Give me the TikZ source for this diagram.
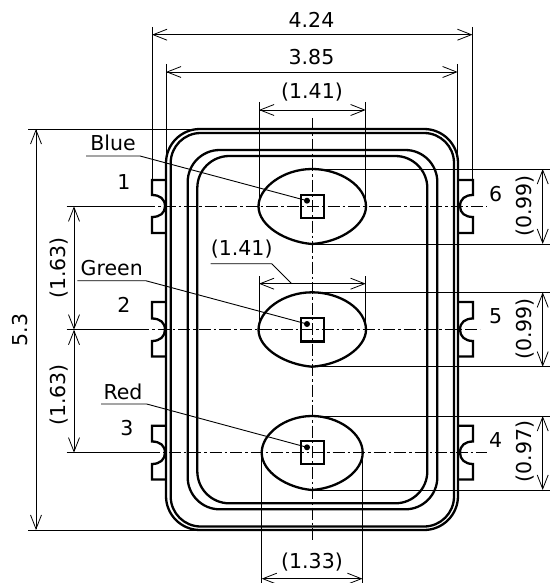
\documentclass[tikz,border=0pt]{standalone}
\usepackage{fontspec}
\setmainfont{DejaVu Sans}
\usetikzlibrary{arrows.meta}
\tikzset{
  lbl/.style={font=\fontsize{20.5}{24}\selectfont, inner sep=0pt},
  dimline/.style={line width=0.9pt, {Straight Barb[length=14pt,width=11pt,line width=0.8pt]}-{Straight Barb[length=14pt,width=11pt,line width=0.8pt]}},
  extline/.style={line width=0.9pt},
  outline/.style={line width=2.3pt},
  centerline/.style={line width=0.9pt, dash pattern=on 12pt off 3pt on 2.5pt off 3pt},
  leader/.style={line width=0.9pt}
}
\begin{document}
\begin{tikzpicture}[x=1pt,y=-1pt]
      \useasboundingbox (0,0) rectangle (552,583);
      \draw
        (311.5,20) node[lbl] (w424){4.24}
        (311.5,57) node[lbl] (w385){3.85}
        (312,92) node[lbl] (w141a){(1.41)}
        (241.7,249) node[lbl] (w141b){(1.41)}
        (312,562.5) node[lbl] (w133){(1.33)}
        (20,330) node[lbl,rotate=90] (h53){5.3}
        (59.5,268) node[lbl,rotate=90] (h163a){(1.63)}
        (59.5,395) node[lbl,rotate=90] (h163b){(1.63)}
        (525,206) node[lbl,rotate=90] (h099a){(0.99)}
        (525,329) node[lbl,rotate=90] (h099b){(0.99)}
        (525,451.7) node[lbl,rotate=90] (h097){(0.97)}
        (113,143) node[lbl] (blue){Blue}
        (111.7,268) node[lbl] (green){Green}
        (123,392) node[lbl] (red){Red}
        (124,182) node[lbl] (pin1){1}
        (124,305) node[lbl] (pin2){2}
        (127,428) node[lbl] (pin3){3}
        (495.7,440) node[lbl] (pin4){4}
        (495.7,316) node[lbl] (pin5){5}
        (495.7,194) node[lbl] (pin6){6};
      % package body
      \begin{scope}[outline]
        \draw[rounded corners=34] (166,129) rectangle (458,530);
        \draw[rounded corners=30] (170.7,133) rectangle (454,526.5);
        \draw[rounded corners=32] (187.7,150) rectangle (437.3,509.3);
        \draw[rounded corners=32] (197.3,156) rectangle (427.3,503.3);
      \end{scope}
      % pads
      \begin{scope}[outline]
        \draw (166,180) -- (152,180) -- (152,195) .. controls (160,195) and (165,199) .. (165,206.3) .. controls (165,213) and (160,217) .. (152,217) -- (152,233) -- (166,233);
        \draw (166,302) -- (152,302) -- (152,318.5) .. controls (160,318.5) and (165,322.5) .. (165,329.7) .. controls (165,336.5) and (160,341) .. (152,341) -- (152,356.5) -- (166,356.5);
        \draw (166,425.7) -- (152,425.7) -- (152,441.5) .. controls (160,441.5) and (165,445.5) .. (165,452.7) .. controls (165,459.5) and (160,464) .. (152,464) -- (152,479.5) -- (166,479.5);
        \draw (458,425.7) -- (473,425.7) -- (473,441.5) .. controls (465,441.5) and (460,445.5) .. (460,452.7) .. controls (460,459.5) and (465,464) .. (473,464) -- (473,479.5) -- (458,479.5);
        \draw (458,302) -- (473,302) -- (473,318.5) .. controls (465,318.5) and (460,322.5) .. (460,329.7) .. controls (460,336.5) and (465,341) .. (473,341) -- (473,356.5) -- (458,356.5);
        \draw (458,180) -- (473,180) -- (473,195) .. controls (465,195) and (460,199) .. (460,206.3) .. controls (460,213) and (465,217) .. (473,217) -- (473,233) -- (458,233);
      \end{scope}
      % lenses and chips
      \begin{scope}[outline]
        \draw (258.5,206.3) .. controls (258.5,188) and (283,169) .. (312,169) .. controls (340,169) and (366,186) .. (366,206.3) .. controls (366,224) and (342,242) .. (312,244) .. controls (286,242) and (258.5,226) .. (258.5,206.3) -- cycle;
        \draw (258.5,329.7) .. controls (258.5,311) and (283,292.3) .. (312,292.3) .. controls (340,292.3) and (366,309) .. (366,329.7) .. controls (366,347) and (342,364.7) .. (312,366.7) .. controls (286,364.7) and (258.5,349) .. (258.5,329.7) -- cycle;
        \draw (261.7,452.7) .. controls (261.7,434) and (285,416) .. (312,416) .. controls (338,416) and (362.7,433) .. (362.7,452.7) .. controls (362.7,471) and (340,488) .. (312,490) .. controls (287,488) and (261.7,472) .. (261.7,452.7) -- cycle;
        \draw (300.7,195) rectangle (324.3,218);
        \draw (300.7,318) rectangle (324.3,341.5);
        \draw (300.7,441) rectangle (324.3,464.3);
      \end{scope}
      \node[circle,fill,inner sep=0pt,minimum size=6pt] (dot1) at (307,200.7) {};
      \node[circle,fill,inner sep=0pt,minimum size=6pt] (dot2) at (307,324) {};
      \node[circle,fill,inner sep=0pt,minimum size=6pt] (dot3) at (307,447.3) {};
      % center lines
      \begin{scope}[extline]
        \draw (66.7,206.3) -- (143,206.3);
        \draw (66.7,329.7) -- (137,329.7);
        \draw (66.7,452.7) -- (148,452.7);
      \end{scope}
      \begin{scope}[centerline]
        \draw (143,206.3) -- (486.7,206.3);
        \draw (137,329.7) -- (480,329.7);
        \draw (148,452.7) -- (486.7,452.7);
        \draw (312.3,118) -- (312.3,541.7);
      \end{scope}
      % extension lines
      \begin{scope}[extline]
        \draw (152,27) -- (152,180);
        \draw (472.5,27) -- (472.5,180);
        \draw (166,64) -- (166,170);
        \draw (457.7,64) -- (457.7,170);
        \draw (259,102) -- (259,206.3);
        \draw (365.7,102) -- (365.7,206.3);
        \draw (259,276) -- (259,329.7);
        \draw (365.7,276) -- (365.7,329.7);
        \draw (261.7,452.7) -- (261.7,583);
        \draw (362.5,452.7) -- (362.5,583);
        \draw (28,129) -- (200,129);
        \draw (28,530) -- (200,530);
        \draw (312,169) -- (550,169);
        \draw (312,244) -- (550,244);
        \draw (312,292.3) -- (550,292.3);
        \draw (312,366.7) -- (550,366.7);
        \draw (312,416) -- (550,416);
        \draw (312,490) -- (550,490);
      \end{scope}
      % dimensions
      \begin{scope}[dimline]
        \draw (152,34.7) -- (472.5,34.7);
        \draw (166,72) -- (457.7,72);
        \draw (259,110) -- (365.7,110);
        \draw (259,283.7) -- (365.7,283.7);
        \draw (261.7,578.7) -- (362.5,578.7);
        \draw (36,129) -- (36,530);
        \draw (74,206.3) -- (74,329.7);
        \draw (74,329.7) -- (74,452.7);
        \draw (542.7,169) -- (542.7,244);
        \draw (542.7,292.3) -- (542.7,366.7);
        \draw (542.7,416) -- (542.7,490);
      \end{scope}
      % leaders
      \coordinate (blueA) at (86,156);
      \coordinate (blueB) at (140,156);
      \coordinate (greenA) at (77.3,280.7);
      \coordinate (greenB) at (145.7,280.7);
      \coordinate (redA) at (101,404);
      \coordinate (redB) at (146.7,404);
      \coordinate (w141A) at (210.7,263.7);
      \coordinate (w141B) at (271.7,263.7);
      \coordinate (w141C) at (291.7,283.7);
      \begin{scope}[leader]
        \draw (blueA) -- (blueB) -- (dot1.center);
        \draw (greenA) -- (greenB) -- (dot2.center);
        \draw (redA) -- (redB) -- (dot3.center);
        \draw (w141A) -- (w141B) -- (w141C);
      \end{scope}
    \end{tikzpicture}
\end{document}
